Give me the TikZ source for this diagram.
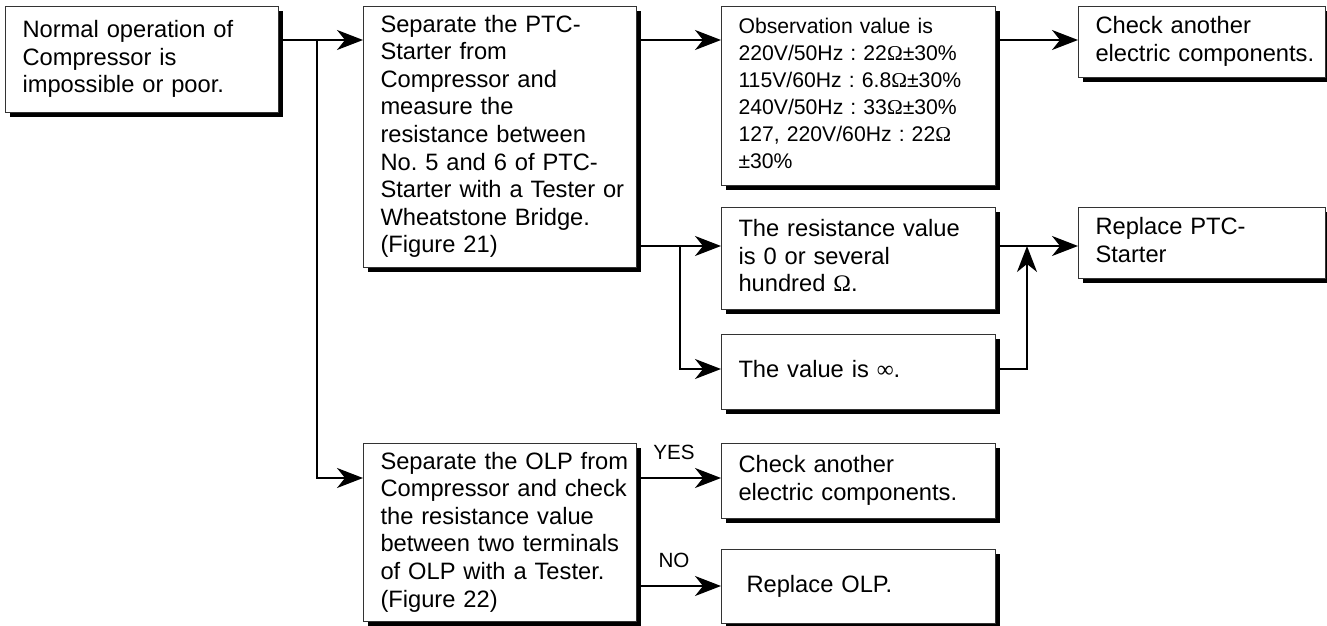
\documentclass[tikz,border=0pt]{standalone}
\usepackage{fontspec}
\setmainfont{Liberation Sans}
\newfontfamily\symfont{Liberation Serif}
\usetikzlibrary{positioning,arrows.meta,shadows}
\frenchspacing

\newcommand\ohm{{\symfont Ω}}
\newcommand\infy{{\symfont ∞}}
\newcommand\stack[1]{\begin{tabular}{@{}l@{}}#1\end{tabular}}

\begin{document}
\begin{tikzpicture}
    [panel/.style={rectangle, draw=black!80, line width=0.5pt, fill=white,
       drop shadow={shadow xshift=2.4pt, shadow yshift=-2.4pt, fill=black, opacity=1},
       inner xsep=8.5pt, inner ysep=0pt, text width=#1-17pt, align=left,
       font=\fontsize{11.85pt}{13.8pt}\selectfont},
     panel/.default=136.5pt,
     arr/.style={-{Stealth[length=13pt,width=10pt,inset=4pt]}, line width=1pt},
     tag/.style={font=\fontsize{10.3pt}{12pt}\selectfont, inner sep=0pt, above=8.5pt}]

    \useasboundingbox (0,0) rectangle (663.5pt,-313pt);

    % first column
    \node[panel, minimum height=53pt, anchor=north west] (start) at (2.5pt,-3pt)
      {\stack{Normal operation of\\Compressor is\\impossible or poor.}};

    % second column
    \node[panel, minimum height=130.5pt, right=42pt of start.north east, anchor=north west] (ptc)
      {\stack{Separate the PTC-\\Starter from\\Compressor and\\measure the\\resistance between\\
        No. 5 and 6 of PTC-\\Starter with a Tester or\\Wheatstone Bridge.\\(Figure 21)}};
    \node[panel, minimum height=89pt, below=87.5pt of ptc.south west, anchor=north west] (olp)
      {\stack{Separate the OLP from\\Compressor and check\\the resistance value\\
        between two terminals\\of OLP with a Tester.\\(Figure 22)}};

    % third column
    \node[panel=137pt, minimum height=89.5pt, font=\fontsize{10.6pt}{13.5pt}\selectfont,
      right=42pt of ptc.north east, anchor=north west] (obs)
      {\stack{Observation value is\\220V/50Hz : 22\ohm±30\%\\115V/60Hz : 6.8\ohm±30\%\\
        240V/50Hz : 33\ohm±30\%\\127, 220V/60Hz : 22\ohm\\±30\%}};
    \node[panel=137pt, minimum height=51pt, below=10.5pt of obs.south west, anchor=north west] (res)
      {\stack{The resistance value\\is 0 or several\\hundred \ohm.}};
    \node[panel=137pt, minimum height=37.5pt, below=12pt of res.south west, anchor=north west] (inf)
      {\stack{The value is \infy.}};
    \node[panel=137pt, minimum height=37.5pt, right=42pt of olp.north east, anchor=north west] (chk2)
      {\stack{Check another\\electric components.}};
    \node[panel=137pt, minimum height=37pt, below=15pt of chk2.south west, anchor=north west] (repolp)
      {\stack{\hspace{4pt}Replace OLP.}};

    % fourth column
    \node[panel=123.5pt, minimum height=35.5pt, right=41pt of obs.north east, anchor=north west] (chk1)
      {\stack{Check another\\electric components.}};
    \node[panel=123.5pt, minimum height=35.5pt, right=41pt of res.north east, anchor=north west] (rep)
      {\stack{Replace PTC-\\Starter}};

    % entry points
    \coordinate[below=17pt of ptc.north west] (ptc-in);
    \coordinate[below=17pt of obs.north west] (obs-in);
    \coordinate[below=17pt of chk1.north west] (chk1-in);
    \coordinate[below=19.5pt of res.north west] (res-in);
    \coordinate[below=19.5pt of rep.north west] (rep-in);
    \coordinate[below=17.5pt of inf.north west] (inf-in);
    \coordinate[below=17.5pt of olp.north west] (olp-in);
    \coordinate[below=17.5pt of chk2.north west] (chk2-in);
    \coordinate[below=18.5pt of repolp.north west] (repolp-in);

    \coordinate (start-out) at (start.east |- ptc-in);
    \coordinate[right=19pt of start-out] (fork1);
    \coordinate (ptc-out) at (ptc.east |- res-in);
    \coordinate[right=21.5pt of ptc-out] (fork2);
    \coordinate (res-out) at (res.east |- rep-in);
    \coordinate[right=15.5pt of res-out] (join);

    % connectors
    \draw[arr] (start-out) -- (ptc-in);
    \draw[arr] (fork1) |- (olp-in);
    \draw[arr] (ptc.east |- obs-in) -- (obs-in);
    \draw[arr] (ptc-out) -- (res-in);
    \draw[arr] (fork2) |- (inf-in);
    \draw[arr] (obs.east |- chk1-in) -- (chk1-in);
    \draw[arr] (res-out) -- (rep-in);
    \draw[arr] (inf.east |- inf-in) -| (join);
    \draw[arr] (olp.east |- chk2-in) -- node[tag, pos=0.44] {YES} (chk2-in);
    \draw[arr] (olp.east |- repolp-in) -- node[tag, pos=0.44] {NO} (repolp-in);
  \end{tikzpicture}
\end{document}
